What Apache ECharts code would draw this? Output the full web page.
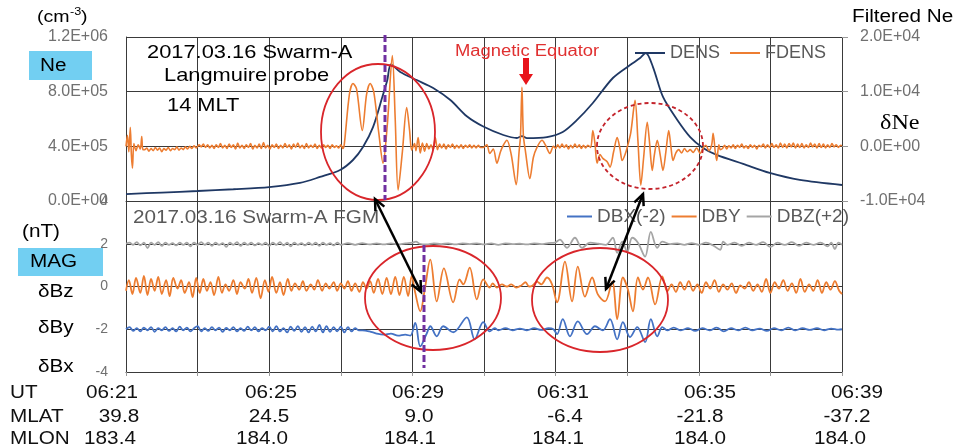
<!DOCTYPE html>
<html>
<head>
<meta charset="utf-8">
<script src="https://cdn.jsdelivr.net/npm/echarts/dist/echarts.min.js"></script>
<style>
  html, body { margin: 0; padding: 0; background: #fff; }
  #chart { width: 962px; height: 447px; }
</style>
</head>
<body>
<div id="chart"></div>
<script>
// x = position along the pass in grid divisions (0..10)
const utLabels = ['06:21', '06:25', '06:29', '06:31', '06:35', '06:39']
const mlatLabels = ['39.8', '24.5', '9.0', '-6.4', '-21.8', '-37.2']
const mlonLabels = ['183.4', '184.0', '184.1', '184.1', '184.0', '184.0']

// Ne (1e5 cm^-3)
const densPts = [
  [0, 0.51], [0.5, 0.62], [1.0, 0.73], [1.5, 0.86], [2.0, 1.02], [2.43, 1.32], [2.71, 1.76],
  [2.99, 2.27], [3.17, 3.0], [3.31, 3.95], [3.45, 5.41], [3.58, 7.61], [3.65, 8.85], [3.70, 10.0],
  [3.83, 9.44], [4.06, 8.85], [4.29, 8.27], [4.53, 7.39], [4.76, 6.2], [4.99, 5.45], [5.27, 4.83],
  [5.46, 4.61], [5.53, 4.75], [5.6, 4.6], [5.88, 4.68], [6.10, 5.05], [6.30, 5.93], [6.52, 7.17],
  [6.80, 9.0], [7.04, 9.95], [7.18, 10.46], [7.26, 10.83], [7.36, 9.8], [7.5, 7.61], [7.70, 5.93],
  [7.88, 4.68], [8.06, 3.88], [8.25, 3.37], [8.62, 2.71], [8.99, 2.05], [9.41, 1.54], [10, 1.17]
]

// filtered Ne (1e3 cm^-3)
const fdensPts = [
  [0, 0], [0.02, 2.0], [0.04, -1.0], [0.06, 3.5], [0.075, -1.5], [0.09, -4.0], [0.11, 0.5], [0.14, -0.8],
  [0.17, 0.3], [0.2, -0.5], [0.22, 1.8], [0.235, -0.6], [0.26, -0.6], [0.29, -0.3], [0.32, -0.9],
  [0.35, -0.4], [0.38, -0.8], [0.41, -0.2], [0.44, -0.7], [0.47, -0.3], [0.5, -1.0], [0.53, -0.4],
  [0.56, -0.7], [0.59, -0.2], [0.62, -0.8], [0.65, -0.4], [0.68, -0.6], [0.71, -0.1], [0.74, -0.7],
  [0.77, -0.3], [0.8, -0.6], [0.83, -0.1], [0.86, -0.5], [0.89, 0], [0.92, -0.4], [0.95, 0.1], [0.98, -0.3],
  [1.02, 0.3], [1.05, -0.1], [1.08, 0.4], [1.11, -0.2], [1.14, 0.3], [1.17, -0.3], [1.2, 0.2], [1.23, -0.4],
  [1.26, 0.3], [1.29, -0.2], [1.32, 0.5], [1.35, -0.3], [1.38, 0.2], [1.41, -0.4], [1.44, 0.4], [1.47, -0.2],
  [1.5, 0.3], [1.53, -0.5], [1.56, 0.6], [1.59, -0.3], [1.62, 0.2], [1.65, -0.4], [1.68, 0.3], [1.71, -0.2],
  [1.74, 0.5], [1.77, -0.5], [1.8, 0.2], [1.83, -0.3], [1.86, 0.4], [1.89, -0.4], [1.92, 0.7], [1.95, -0.3],
  [1.98, 0.2], [2.01, -0.5], [2.04, 0.3], [2.07, -0.2], [2.1, 0.4], [2.13, -0.4], [2.16, 0.2], [2.19, -0.3],
  [2.22, 0.5], [2.25, -0.2], [2.28, 0.3], [2.31, -0.5], [2.34, 0.4], [2.37, -0.2], [2.4, 0.6], [2.43, -0.3],
  [2.46, 0.2], [2.49, -0.4], [2.52, 0.5], [2.55, -0.3], [2.58, 0.2], [2.61, -0.2], [2.64, 0.4], [2.67, -0.4],
  [2.7, 0.2], [2.73, -0.3], [2.76, 0.3], [2.79, -0.2], [2.82, 0.2], [2.85, -0.4], [2.88, 0.3], [2.91, -0.2],
  [2.94, 0.1], [2.97, -0.3], [3.0, 0.3], [3.03, -0.4], [3.05, 0.5], [3.12, 9.5], [3.17, 11.5], [3.22, 10.5],
  [3.3, 2.9], [3.36, 9.5], [3.41, 11.5], [3.46, 10.0], [3.53, 2.5], [3.59, -3.1], [3.65, 4.0], [3.72, 16.6],
  [3.76, 5.0], [3.8, -8.0], [3.86, -1.0], [3.92, 7.1], [3.96, 3.0], [3.99, -0.7], [4.03, 0.5], [4.05, -0.8],
  [4.08, 1.6], [4.11, -1.2], [4.14, 0.6], [4.17, -0.9], [4.2, 0.5], [4.23, -0.5], [4.26, 0.3], [4.29, -0.6],
  [4.32, 1.6], [4.35, -0.6], [4.38, 0.4], [4.41, -0.3], [4.44, 0.4], [4.47, -0.5], [4.5, 0.3], [4.53, -0.2],
  [4.56, 0.4], [4.59, -0.4], [4.62, 0.2], [4.65, -0.3], [4.68, 0.3], [4.71, -0.4], [4.74, 0.2], [4.77, -0.2],
  [4.8, 0.3], [4.83, -0.3], [4.86, 0.2], [4.89, -0.3], [4.92, 0.2], [4.95, -0.2], [4.99, -0.2], [5.04, 0.3],
  [5.08, -1.3], [5.13, -0.5], [5.18, -3.1], [5.23, -1.0], [5.27, 0.2], [5.32, 1.1], [5.38, -1.5], [5.45, -7.0],
  [5.49, -1.0], [5.51, 2.0], [5.53, 10.8], [5.55, 2.0], [5.58, -1.0], [5.64, -5.9], [5.69, -2.0], [5.74, -0.2],
  [5.81, 1.1], [5.86, 0.2], [5.92, -1.3], [5.97, 0], [6.0, -0.4], [6.03, 0.3], [6.06, -0.3], [6.09, 0.4],
  [6.12, -0.2], [6.15, 0.3], [6.18, -0.5], [6.21, 0.2], [6.24, -0.3], [6.27, 0.4], [6.3, -0.2], [6.33, 0.3],
  [6.36, -0.4], [6.39, 0.2], [6.42, -0.3], [6.45, 0.2], [6.49, -0.2], [6.52, 2.9], [6.55, 0.5], [6.58, -3.1],
  [6.62, -1.5], [6.66, -2.2], [6.72, -2.8], [6.76, -3.8], [6.81, -1.0], [6.86, 1.6], [6.9, -0.5], [6.93, -2.6],
  [6.97, -1.5], [7.0, -0.2], [7.05, 2.5], [7.11, 8.4], [7.15, 1.0], [7.19, -7.1], [7.23, -2.0], [7.28, 4.4],
  [7.31, 1.0], [7.35, -4.4], [7.38, -1.5], [7.42, 1.1], [7.46, -1.5], [7.5, -4.4], [7.54, -1.0], [7.58, 2.9],
  [7.61, 0], [7.64, -2.6], [7.68, -1.2], [7.72, -0.6], [7.76, -1.2], [7.8, -0.4], [7.84, -1.0], [7.88, -0.6],
  [7.92, -1.1], [7.97, -0.3], [8.02, -1.3], [8.06, -0.3], [8.1, 0.2], [8.14, -0.8], [8.18, 0.3], [8.2, 2.4],
  [8.23, -1.0], [8.25, -2.6], [8.28, 0.3], [8.3, -0.6], [8.33, -0.4], [8.36, 0.2], [8.39, -0.5], [8.42, 0.1],
  [8.45, -0.3], [8.48, 0.3], [8.51, -0.4], [8.54, 0.2], [8.57, -0.2], [8.6, 0.4], [8.63, -0.3], [8.66, 0.1],
  [8.69, -0.4], [8.72, 0.3], [8.75, -0.2], [8.78, 0.2], [8.81, -0.5], [8.84, 0.2], [8.87, -0.1], [8.9, 0.4],
  [8.93, -0.3], [8.96, 0.3], [8.99, -0.2], [9.02, 0.5], [9.05, -0.2], [9.08, 0.3], [9.11, -0.3], [9.14, 0.6],
  [9.17, -0.2], [9.2, 0.4], [9.23, -0.3], [9.26, 0.5], [9.29, -0.1], [9.32, 0.6], [9.35, -0.3], [9.38, 0.4],
  [9.41, -0.2], [9.44, 0.5], [9.47, -0.3], [9.5, 0.3], [9.53, -0.2], [9.56, 0.6], [9.59, -0.1], [9.62, 0.4],
  [9.65, -0.3], [9.68, 0.5], [9.71, -0.2], [9.74, 0.4], [9.77, -0.3], [9.8, 0.3], [9.83, -0.2], [9.86, 0.5],
  [9.89, -0.1], [9.92, 0.3], [9.95, -0.2], [9.98, 0.2], [10, 0.1]
]

// magnetic perturbations (nT), before the plotting offsets
const dbxOffset = -2
const dbzOffset = 2

const dbxPts = [
  [0, 0], [0.05, 0.1], [0.1, -0.08], [0.15, 0.05], [0.2, -0.1], [0.25, 0.08], [0.3, -0.05], [0.35, 0.1],
  [0.4, -0.12], [0.45, 0.05], [0.5, -0.05], [0.55, 0.1], [0.6, -0.08], [0.65, 0.05], [0.7, -0.1], [0.75, 0.12],
  [0.8, -0.05], [0.85, 0.08], [0.9, -0.1], [0.95, 0.05], [1.0, 0.15], [1.05, -0.1], [1.1, 0.05], [1.15, -0.08],
  [1.2, 0.1], [1.25, -0.05], [1.3, 0.08], [1.35, -0.12], [1.4, 0.06], [1.45, -0.05], [1.5, 0.1], [1.55, -0.1],
  [1.6, 0.05], [1.65, -0.08], [1.7, 0.12], [1.75, -0.05], [1.8, 0.1], [1.85, -0.1], [1.9, 0.05], [1.95, -0.05],
  [2.0, 0.12], [2.05, -0.1], [2.1, 0.15], [2.15, -0.1], [2.2, 0.05], [2.25, -0.15], [2.3, 0.12], [2.35, -0.08],
  [2.4, 0.15], [2.45, -0.12], [2.5, 0.1], [2.55, -0.15], [2.6, 0.12], [2.65, -0.1], [2.7, 0.2], [2.75, -0.15],
  [2.8, 0.15], [2.85, -0.12], [2.9, 0.1], [2.95, -0.1], [3.0, 0.12], [3.05, -0.15], [3.1, 0.1], [3.15, -0.1],
  [3.2, 0.05], [3.25, -0.05], [3.3, -0.05], [3.4, -0.1], [3.5, -0.2], [3.6, -0.25], [3.7, -0.2], [3.8, -0.3],
  [3.9, -0.25], [3.97, -0.3], [4.04, 0.3], [4.11, -0.8], [4.2, -0.2], [4.25, 0.14], [4.34, -0.33], [4.43, 0.14],
  [4.57, -0.14], [4.76, 0.56], [4.87, -0.47], [4.99, 0.33], [5.08, -0.1], [5.15, 0.05], [5.2, -0.05], [5.3, 0.05],
  [5.4, -0.05], [5.5, 0.03], [5.6, -0.05], [5.7, 0.05], [5.8, -0.03], [5.9, 0.05], [5.97, 0], [6.02, -0.23],
  [6.1, 0.47], [6.2, -0.33], [6.31, 0.37], [6.44, -0.23], [6.55, 0.14], [6.66, -0.05], [6.76, 0.47], [6.86, -0.47],
  [6.94, 0.33], [7.04, -0.37], [7.14, 0.1], [7.25, -0.6], [7.33, 0.47], [7.42, -0.33], [7.49, 0.1], [7.56, -0.05],
  [7.65, 0.08], [7.75, -0.05], [7.85, 0.05], [7.95, -0.08], [8.05, 0.05], [8.15, -0.05], [8.25, 0.08], [8.35, -0.1],
  [8.45, 0.05], [8.55, -0.05], [8.65, 0.08], [8.75, -0.05], [8.85, 0.03], [8.95, -0.08], [9.05, 0.05], [9.15, -0.05],
  [9.25, 0.08], [9.35, -0.05], [9.45, 0.05], [9.55, -0.03], [9.65, 0.05], [9.75, -0.05], [9.85, 0.03], [9.95, -0.02],
  [10, 0]
]

const dbyPts = [
  [0, -0.2], [0.04, 0.3], [0.09, -0.35], [0.14, 0.4], [0.2, -0.3], [0.25, 0.5], [0.3, -0.4], [0.35, 0.35],
  [0.4, -0.2], [0.45, 0.45], [0.5, -0.35], [0.56, 0.3], [0.61, -0.45], [0.66, 0.4], [0.72, -0.1], [0.77, 0.3],
  [0.82, -0.3], [0.88, 0.2], [0.93, -0.5], [0.98, 0.4], [1.03, -0.3], [1.08, 0.35], [1.13, -0.2], [1.18, 0.2],
  [1.23, -0.4], [1.29, 0.45], [1.34, -0.3], [1.39, 0.1], [1.44, -0.2], [1.5, 0.3], [1.55, -0.35], [1.6, 0.2],
  [1.66, -0.1], [1.71, 0.35], [1.76, -0.3], [1.82, 0.4], [1.88, -0.55], [1.94, 0.3], [1.99, -0.25], [2.04, 0.45],
  [2.1, -0.3], [2.15, 0.2], [2.2, -0.4], [2.26, 0.35], [2.31, -0.2], [2.36, 0.15], [2.42, -0.15], [2.47, 0.25],
  [2.52, -0.2], [2.58, 0.1], [2.63, -0.15], [2.68, 0.3], [2.74, -0.2], [2.79, 0.15], [2.84, -0.1], [2.9, 0.2],
  [2.95, -0.2], [3.0, 0.15], [3.05, -0.1], [3.1, 0.25], [3.15, -0.2], [3.2, 0.15], [3.26, -0.25], [3.31, 0.2],
  [3.36, -0.1], [3.41, 0.25], [3.46, -0.3], [3.52, 0.35], [3.58, -0.35], [3.64, 0.4], [3.7, -0.35], [3.76, 0.45],
  [3.82, -0.4], [3.88, 0.45], [3.94, -0.45], [3.99, 0.5], [4.04, -0.3], [4.11, -1.16], [4.17, -0.2], [4.25, 1.26],
  [4.34, -0.7], [4.44, 0.85], [4.57, -0.74], [4.66, 0.33], [4.71, 0.1], [4.8, 0.88], [4.9, -0.6], [4.99, 0.33],
  [5.08, -0.05], [5.12, 0.15], [5.18, -0.05], [5.25, 0.1], [5.32, 0], [5.38, 0.1], [5.45, -0.05], [5.52, 0.05],
  [5.58, 0.2], [5.63, 0], [5.68, 0.05], [5.74, 0.23], [5.8, 0.1], [5.88, 0.42], [5.95, 0.1], [6.02, -0.74],
  [6.13, 1.16], [6.23, -0.7], [6.31, 0.93], [6.41, -0.47], [6.51, 0.42], [6.59, -0.37], [6.69, -0.7], [6.79, 0.23],
  [6.86, -1.53], [6.94, 0.42], [7.01, -0.14], [7.08, -1.16], [7.15, 0.42], [7.22, -0.14], [7.29, 0.42], [7.39, -0.84],
  [7.49, 0.47], [7.56, -0.23], [7.62, 0.1], [7.68, -0.25], [7.74, 0.2], [7.8, -0.15], [7.86, 0.25], [7.92, -0.2],
  [7.98, 0.1], [8.04, -0.3], [8.1, 0.2], [8.16, -0.1], [8.22, 0.3], [8.28, -0.25], [8.34, 0.1], [8.4, -0.15],
  [8.46, 0.15], [8.52, -0.3], [8.58, 0.05], [8.64, -0.1], [8.7, 0.2], [8.76, -0.2], [8.82, 0.1], [8.88, -0.25],
  [8.94, 0.35], [9.0, -0.3], [9.06, 0.2], [9.12, -0.1], [9.18, 0.3], [9.24, -0.2], [9.3, 0.15], [9.36, -0.3],
  [9.42, 0.35], [9.48, -0.25], [9.54, 0.1], [9.6, -0.2], [9.66, 0.3], [9.72, -0.3], [9.78, 0.2], [9.84, -0.15],
  [9.9, 0.25], [9.96, -0.2], [10, -0.35]
]

const dbzPts = [
  [0, 0], [0.05, 0.05], [0.1, -0.05], [0.15, 0.08], [0.2, -0.08], [0.25, 0.05], [0.3, -0.2], [0.35, 0.05],
  [0.4, -0.05], [0.45, 0.08], [0.5, -0.1], [0.55, 0.05], [0.6, -0.05], [0.65, 0.03], [0.7, -0.08], [0.75, 0.05],
  [0.8, -0.05], [0.85, 0.05], [0.9, -0.12], [0.95, 0.05], [1.0, -0.05], [1.05, 0.08], [1.1, -0.05], [1.15, 0.05],
  [1.2, -0.1], [1.25, 0.05], [1.3, -0.05], [1.35, 0.03], [1.4, -0.15], [1.45, 0.05], [1.5, -0.05], [1.55, 0.08],
  [1.6, -0.1], [1.65, 0.05], [1.7, -0.05], [1.75, 0.05], [1.8, -0.08], [1.85, 0.03], [1.9, -0.05], [1.95, 0.05],
  [2.0, -0.1], [2.05, 0.05], [2.1, -0.05], [2.15, 0.08], [2.2, -0.08], [2.25, 0.05], [2.3, -0.12], [2.35, 0.05],
  [2.4, -0.05], [2.45, 0.03], [2.5, -0.08], [2.55, 0.05], [2.6, -0.05], [2.65, 0.05], [2.7, -0.1], [2.75, 0.05],
  [2.8, -0.05], [2.85, 0.03], [2.9, -0.08], [2.95, 0.05], [3.0, -0.05], [3.1, 0.03], [3.2, -0.05], [3.3, 0.03],
  [3.4, -0.03], [3.5, 0.02], [3.6, -0.03], [3.7, 0.02], [3.8, -0.03], [3.9, 0.02], [4.0, 0.05], [4.05, 0.1],
  [4.1, 0], [4.2, -0.03], [4.3, 0.02], [4.4, -0.02], [4.5, 0.02], [4.6, -0.03], [4.7, 0.02], [4.8, -0.02],
  [4.9, 0.02], [5.0, -0.03], [5.1, 0.02], [5.2, -0.05], [5.3, 0.02], [5.4, -0.02], [5.5, 0], [5.6, -0.03],
  [5.7, 0.02], [5.8, -0.02], [5.9, 0.03], [5.99, 0.05], [6.06, 0.19], [6.16, -0.19], [6.27, 0.28], [6.37, -0.19],
  [6.48, 0.05], [6.6, 0], [6.7, -0.05], [6.8, 0.28], [6.86, -0.42], [6.93, 0.1], [7.0, -0.37], [7.07, 0.28],
  [7.15, 0.05], [7.25, -0.6], [7.33, 0.56], [7.42, -0.19], [7.49, 0.1], [7.6, -0.02], [7.7, 0.02], [7.8, -0.05],
  [7.9, 0.03], [8.0, -0.05], [8.1, 0.05], [8.2, -0.08], [8.3, -0.28], [8.34, 0.1], [8.4, -0.05], [8.5, 0.05],
  [8.6, -0.1], [8.7, 0.05], [8.8, -0.05], [8.9, 0.08], [9.0, -0.15], [9.1, 0.05], [9.2, -0.05], [9.3, 0.08],
  [9.4, -0.1], [9.5, 0.05], [9.6, -0.05], [9.7, 0.05], [9.8, -0.12], [9.85, 0.05], [9.9, -0.25], [9.95, 0.05],
  [10, -0.05]
]

// --- layout ---
const FONT = "'Liberation Sans', Arial, sans-serif"
const rowY = [393, 417, 439]
const rowNames = ['UT', 'MLAT', 'MLON']
const rowLabels = [utLabels, mlatLabels, mlonLabels]
const colX = [
  [112, 271, 418, 563, 710, 857],
  [119, 269, 419, 565, 700, 847],
  [110, 262, 410, 558, 700, 840]
]

const sci = (v) => {
  if (Math.abs(v) < 1e-9) return '0.0E+00'
  const e = Math.floor(Math.log10(Math.abs(v)) + 1e-9)
  const m = v / Math.pow(10, e)
  return m.toFixed(1) + 'E' + (e < 0 ? '-' : '+') + String(Math.abs(e)).padStart(2, '0')
}

const txt = (x, y, s, size, color, extra) => ({
  type: 'text', x: x, y: y, scaleX: 1.15, z: 100,
  style: Object.assign({
    text: s, fontSize: size, fontFamily: FONT, fill: color || '#000',
    align: 'left', verticalAlign: 'middle', textAlign: 'left', textVerticalAlign: 'middle'
  }, extra || {})
})

const dblArrow = (x1, y1, x2, y2) => {
  const a = Math.atan2(y2 - y1, x2 - x1)
  const L = 11, W = 5
  const head = (px, py, ang) => {
    const bx = px - L * Math.cos(ang), by = py - L * Math.sin(ang)
    return {
      type: 'polyline', z: 110,
      shape: { points: [[bx - W * Math.sin(ang), by + W * Math.cos(ang)], [px, py], [bx + W * Math.sin(ang), by - W * Math.cos(ang)]] },
      style: { stroke: '#000', lineWidth: 2.5, fill: null }
    }
  }
  return [
    { type: 'line', z: 110, shape: { x1, y1, x2, y2 }, style: { stroke: '#000', lineWidth: 2.5 } },
    head(x2, y2, a),
    head(x1, y1, a + Math.PI)
  ]
}

const ellipse = (cx, cy, rx, ry, dashed) => ({
  type: 'ellipse', z: 105, shape: { cx, cy, rx, ry },
  style: { fill: null, stroke: dashed ? '#c4242c' : '#d9262b', lineWidth: 1.8, lineDash: dashed ? [4, 3] : null }
})

const graphics = [
  { type: 'rect', z: 90, shape: { x: 29, y: 51, width: 63, height: 29 }, style: { fill: '#72cff2' } },
  { type: 'rect', z: 90, shape: { x: 18, y: 248, width: 85, height: 28 }, style: { fill: '#72cff2' } },
  txt(37, 17, '(cm', 17),
  txt(70, 12, '-3', 11),
  txt(81, 17, ')', 17),
  txt(40, 66, 'Ne', 18),
  txt(147, 53, '2017.03.16 Swarm-A', 19),
  txt(164, 76, 'Langmuire probe', 19),
  txt(167, 106, '14 MLT', 19),
  txt(455, 52, 'Magnetic Equator', 16, '#e03030'),
  txt(852, 17, 'Filtered Ne', 18),
  txt(880, 123, 'δNe', 21, '#000', { fontFamily: "'Liberation Serif', serif" }),
  txt(133, 218, '2017.03.16 Swarm-A FGM', 18, '#595959'),
  txt(22, 232, '(nT)', 18),
  txt(30, 262, 'MAG', 18),
  txt(38, 292, 'δBz', 18),
  txt(38, 328, 'δBy', 18),
  txt(38, 367, 'δBx', 18),
  {
    type: 'polygon', z: 110,
    shape: { points: [[523, 58], [529, 58], [529, 74], [533, 74], [526, 85], [519, 74], [523, 74]] },
    style: { fill: '#e8141b' }
  },
  { type: 'line', z: 108, shape: { x1: 385, y1: 35, x2: 385, y2: 200 }, style: { stroke: '#7030a0', lineWidth: 3, lineDash: [7, 3] } },
  { type: 'line', z: 108, shape: { x1: 424, y1: 245, x2: 424, y2: 368 }, style: { stroke: '#7030a0', lineWidth: 3, lineDash: [7, 3] } },
  ellipse(378, 132, 57, 68, false),
  ellipse(650, 146, 53, 43, true),
  ellipse(433, 298, 68, 52, false),
  ellipse(600, 300, 68, 52, false),
  ...dblArrow(375, 199, 421, 292),
  ...dblArrow(643, 194, 606, 289)
]

rowNames.forEach((name, r) => {
  graphics.push(txt(10, rowY[r], name, 18, '#111'))
  rowLabels[r].forEach((lab, i) => {
    graphics.push(txt(colX[r][i], rowY[r], lab, 18, '#111', { align: 'center', textAlign: 'center' }))
  })
})

const gridLine = { show: true, lineStyle: { color: '#3a3a3a', width: 1 } }
const labelStyle = { color: '#707070', fontFamily: FONT, fontSize: 16, margin: 18 }

const xAxisFor = (i) => ({
  type: 'value', gridIndex: i, min: 0, max: 10, interval: 1,
  axisLabel: { show: false },
  axisTick: { show: i === 1, length: 4, lineStyle: { color: '#999' } },
  axisLine: { show: true, onZero: false, lineStyle: { color: '#3a3a3a' } },
  splitLine: gridLine
})

const chart = echarts.init(document.getElementById('chart'), null, { renderer: 'canvas' })

chart.setOption({
  animation: false,
  backgroundColor: '#fff',
  grid: [
    { left: 126, right: 120, top: 37, height: 164, containLabel: false, outerBoundsMode: 'none' },
    { left: 126, right: 120, top: 201, height: 171, containLabel: false, outerBoundsMode: 'none' }
  ],
  xAxis: [xAxisFor(0), xAxisFor(1)],
  yAxis: [
    {
      type: 'value', gridIndex: 0, position: 'left', min: 0, max: 12, interval: 4,
      axisLine: { show: true, lineStyle: { color: '#3a3a3a' } },
      axisTick: { show: false },
      axisLabel: Object.assign({}, labelStyle, { formatter: (v) => sci(v * 1e5) }),
      splitLine: gridLine
    },
    {
      type: 'value', gridIndex: 0, position: 'right', min: -10, max: 20, interval: 10,
      axisLine: { show: false },
      axisTick: { show: true, length: 6, lineStyle: { color: '#999' } },
      axisLabel: Object.assign({}, labelStyle, { formatter: (v) => sci(v * 1e3) }),
      splitLine: { show: false }
    },
    {
      type: 'value', gridIndex: 1, position: 'left', min: -4, max: 4, interval: 2,
      axisLine: { show: true, lineStyle: { color: '#3a3a3a' } },
      axisTick: { show: false },
      axisLabel: Object.assign({}, labelStyle, { fontSize: 14 }),
      splitLine: gridLine
    }
  ],
  legend: [
    {
      data: ['DENS', 'FDENS'], left: 635, top: 44, padding: 0,
      icon: 'rect', itemWidth: 30, itemHeight: 2, itemGap: 10,
      textStyle: { fontSize: 18, color: '#595959', fontFamily: FONT }
    },
    {
      data: ['DBX(-2)', 'DBY', 'DBZ(+2)'], left: 567, top: 207, padding: 0,
      icon: 'rect', itemWidth: 25, itemHeight: 2, itemGap: 6,
      textStyle: { fontSize: 19, color: '#595959', fontFamily: FONT }
    }
  ],
  series: [
    {
      name: 'DENS', type: 'line', xAxisIndex: 0, yAxisIndex: 0, data: densPts,
      symbol: 'none', smooth: 0.3, color: '#1f3864', lineStyle: { color: '#1f3864', width: 1.8 }
    },
    {
      name: 'FDENS', type: 'line', xAxisIndex: 0, yAxisIndex: 1, data: fdensPts,
      symbol: 'none', smooth: 0.3, color: '#ed7d31', lineStyle: { color: '#ed7d31', width: 1.6 }
    },
    {
      name: 'DBX(-2)', type: 'line', xAxisIndex: 1, yAxisIndex: 2,
      data: dbxPts.map(([t, v]) => [t, v + dbxOffset]),
      symbol: 'none', smooth: 0.35, color: '#4472c4', lineStyle: { color: '#4472c4', width: 1.8 }
    },
    {
      name: 'DBY', type: 'line', xAxisIndex: 1, yAxisIndex: 2, data: dbyPts,
      symbol: 'none', smooth: 0.35, color: '#ed7d31', lineStyle: { color: '#ed7d31', width: 1.8 }
    },
    {
      name: 'DBZ(+2)', type: 'line', xAxisIndex: 1, yAxisIndex: 2,
      data: dbzPts.map(([t, v]) => [t, v + dbzOffset]),
      symbol: 'none', smooth: 0.35, color: '#a5a5a5', lineStyle: { color: '#a5a5a5', width: 1.8 }
    }
  ],
  graphic: graphics
})
</script>
</body>
</html>
